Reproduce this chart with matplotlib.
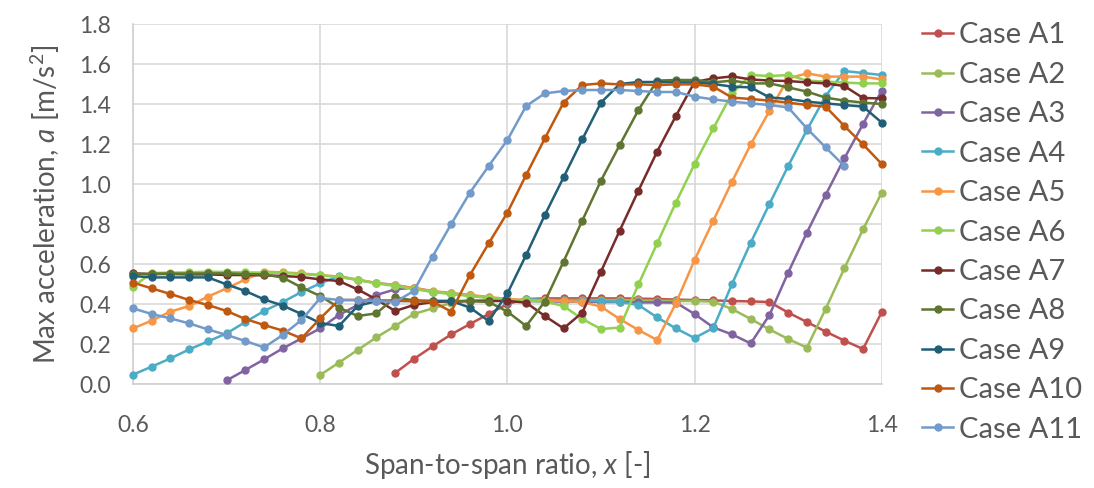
import matplotlib
matplotlib.use("Agg")
import matplotlib.pyplot as plt

plt.rcParams['font.family'] = ['Lato', 'DejaVu Sans']
plt.rcParams['mathtext.fontset'] = 'custom'
plt.rcParams['mathtext.rm'] = 'Lato'
plt.rcParams['mathtext.it'] = 'Lato:italic'

# span-to-span ratio grid (0.60 ... 1.40, step 0.02)
X = [0.60, 0.62, 0.64, 0.66, 0.68, 0.70, 0.72, 0.74, 0.76, 0.78,
     0.80, 0.82, 0.84, 0.86, 0.88, 0.90, 0.92, 0.94, 0.96, 0.98,
     1.00, 1.02, 1.04, 1.06, 1.08, 1.10, 1.12, 1.14, 1.16, 1.18,
     1.20, 1.22, 1.24, 1.26, 1.28, 1.30, 1.32, 1.34, 1.36, 1.38, 1.40]

labels = ['Case A1', 'Case A2', 'Case A3', 'Case A4', 'Case A5', 'Case A6',
          'Case A7', 'Case A8', 'Case A9', 'Case A10', 'Case A11']
colors = ['#C0504D', '#9BBB59', '#8064A2', '#4BACC6', '#F79646', '#92D050',
          '#772C2A', '#5F7530', '#215F76', '#C0590F', '#729ACA']

# index into X of first point for each case
start_idx = [14, 10, 5, 0, 0, 0, 0, 0, 0, 0, 0]

a1 = [0.055, 0.125, 0.188, 0.248, 0.300, 0.350, 0.400, 0.425, 0.428, 0.428,
      0.428, 0.428, 0.428, 0.427, 0.425, 0.422, 0.420, 0.418, 0.415, 0.413,
      0.410, 0.357, 0.310, 0.262, 0.217, 0.175, 0.360]
a2 = [0.045, 0.107, 0.170, 0.233, 0.290, 0.350, 0.378, 0.405, 0.418, 0.420,
      0.420, 0.420, 0.420, 0.420, 0.420, 0.420, 0.420, 0.418, 0.417, 0.415,
      0.415, 0.412, 0.375, 0.325, 0.273, 0.225, 0.182, 0.375, 0.578, 0.773,
      0.957]
a3 = [0.018, 0.070, 0.123, 0.178, 0.228, 0.278, 0.345, 0.395, 0.445, 0.473,
      0.482, 0.462, 0.452, 0.443, 0.432, 0.422, 0.415, 0.413, 0.412, 0.412,
      0.410, 0.410, 0.408, 0.408, 0.407, 0.350, 0.283, 0.248, 0.203, 0.345,
      0.557, 0.757, 0.945, 1.128, 1.300, 1.467]
a4 = [0.047, 0.087, 0.128, 0.173, 0.213, 0.253, 0.310, 0.365, 0.410, 0.460,
      0.503, 0.540, 0.520, 0.505, 0.495, 0.478, 0.462, 0.453, 0.443, 0.433,
      0.410, 0.425, 0.420, 0.418, 0.415, 0.415, 0.410, 0.395, 0.333, 0.278,
      0.230, 0.280, 0.500, 0.707, 0.900, 1.090, 1.270, 1.440, 1.565, 1.555,
      1.545]
a5 = [0.278, 0.317, 0.362, 0.390, 0.437, 0.478, 0.523, 0.562, 0.558, 0.553,
      0.545, 0.537, 0.522, 0.505, 0.495, 0.480, 0.465, 0.455, 0.445, 0.435,
      0.425, 0.420, 0.418, 0.415, 0.410, 0.387, 0.325, 0.270, 0.220, 0.403,
      0.620, 0.817, 1.012, 1.198, 1.365, 1.528, 1.553, 1.537, 1.537, 1.537,
      1.523]
a6 = [0.487, 0.555, 0.557, 0.558, 0.562, 0.560, 0.558, 0.557, 0.555, 0.550,
      0.543, 0.535, 0.520, 0.503, 0.490, 0.475, 0.460, 0.450, 0.440, 0.430,
      0.420, 0.418, 0.412, 0.390, 0.325, 0.275, 0.282, 0.498, 0.703, 0.907,
      1.100, 1.278, 1.453, 1.545, 1.540, 1.545, 1.517, 1.512, 1.507, 1.503,
      1.503]
a7 = [0.553, 0.550, 0.550, 0.548, 0.548, 0.545, 0.545, 0.543, 0.540, 0.535,
      0.523, 0.515, 0.473, 0.423, 0.365, 0.395, 0.410, 0.413, 0.415, 0.415,
      0.415, 0.407, 0.340, 0.278, 0.357, 0.562, 0.767, 0.967, 1.162, 1.340,
      1.510, 1.528, 1.538, 1.523, 1.517, 1.515, 1.508, 1.503, 1.490, 1.430,
      1.428]
a8 = [0.550, 0.550, 0.552, 0.552, 0.553, 0.553, 0.550, 0.548, 0.532, 0.483,
      0.440, 0.382, 0.340, 0.353, 0.433, 0.418, 0.415, 0.415, 0.415, 0.410,
      0.362, 0.290, 0.412, 0.612, 0.817, 1.017, 1.195, 1.370, 1.517, 1.520,
      1.520, 1.508, 1.517, 1.503, 1.503, 1.483, 1.462, 1.432, 1.417, 1.407,
      1.400]
a9 = [0.540, 0.533, 0.533, 0.533, 0.533, 0.498, 0.465, 0.423, 0.392, 0.350,
      0.305, 0.290, 0.390, 0.415, 0.415, 0.415, 0.415, 0.415, 0.382, 0.315,
      0.453, 0.645, 0.845, 1.033, 1.223, 1.407, 1.500, 1.510, 1.510, 1.508,
      1.508, 1.500, 1.487, 1.483, 1.433, 1.425, 1.412, 1.403, 1.395, 1.387,
      1.307]
a10 = [0.507, 0.478, 0.450, 0.420, 0.395, 0.365, 0.325, 0.295, 0.267, 0.228,
       0.328, 0.420, 0.420, 0.418, 0.417, 0.415, 0.412, 0.362, 0.545, 0.703,
       0.857, 1.045, 1.228, 1.407, 1.495, 1.503, 1.498, 1.498, 1.495, 1.498,
       1.498, 1.487, 1.432, 1.425, 1.417, 1.407, 1.395, 1.387, 1.290, 1.198,
       1.100]
a11 = [0.378, 0.350, 0.328, 0.303, 0.273, 0.245, 0.215, 0.183, 0.245, 0.320,
       0.430, 0.420, 0.420, 0.415, 0.410, 0.465, 0.637, 0.800, 0.957, 1.090,
       1.220, 1.390, 1.453, 1.465, 1.470, 1.470, 1.470, 1.465, 1.460, 1.460,
       1.437, 1.423, 1.412, 1.403, 1.395, 1.383, 1.278, 1.183, 1.090]

series = [a1, a2, a3, a4, a5, a6, a7, a8, a9, a10, a11]

txt = '#595959'
fig = plt.figure(figsize=(10.94, 4.88), dpi=100)
ax = fig.add_axes([0.1216, 0.2131, 0.806 - 0.1216, 0.9508 - 0.2131])

for i in range(len(series)):
    s = start_idx[i]
    xs = X[s:s + len(series[i])]
    ax.plot(xs, series[i], '-o', color=colors[i], lw=1.8, ms=5,
            label=labels[i], clip_on=False, zorder=3 + i)

ax.set_xlim(0.6, 1.4)
ax.set_ylim(0, 1.8)
ax.set_xticks([0.6, 0.8, 1.0, 1.2, 1.4])
ax.set_xticklabels(['0.6', '0.8', '1.0', '1.2', '1.4'])
ax.set_yticks([0.0, 0.2, 0.4, 0.6, 0.8, 1.0, 1.2, 1.4, 1.6, 1.8])
ax.set_yticklabels(['0.0', '0.2', '0.4', '0.6', '0.8', '1.0', '1.2', '1.4', '1.6', '1.8'])
ax.grid(True, color='#D9D9D9', lw=1.2)
ax.set_axisbelow(True)
for sp in ['top', 'right']:
    ax.spines[sp].set_visible(False)
for sp in ['left', 'bottom']:
    ax.spines[sp].set_color('#D0D0D0')
    ax.spines[sp].set_linewidth(1.2)
ax.tick_params(axis='both', length=0, labelsize=16.5, colors=txt)
ax.tick_params(axis='x', pad=22)
ax.tick_params(axis='y', pad=16)

ax.set_xlabel('Span-to-span ratio, $x$ [-]', fontsize=20, color=txt, labelpad=10)
ax.set_ylabel('Max acceleration, $a$ [m/s$^2$]', fontsize=20, color=txt, labelpad=12)

fig.legend(loc='upper left', bbox_to_anchor=(0.843, 0.954), frameon=False,
           fontsize=21, handlelength=1.05, handletextpad=0.2,
           labelspacing=0.46, borderpad=0, borderaxespad=0, labelcolor=txt)

fig.savefig('out.png', dpi=100)
